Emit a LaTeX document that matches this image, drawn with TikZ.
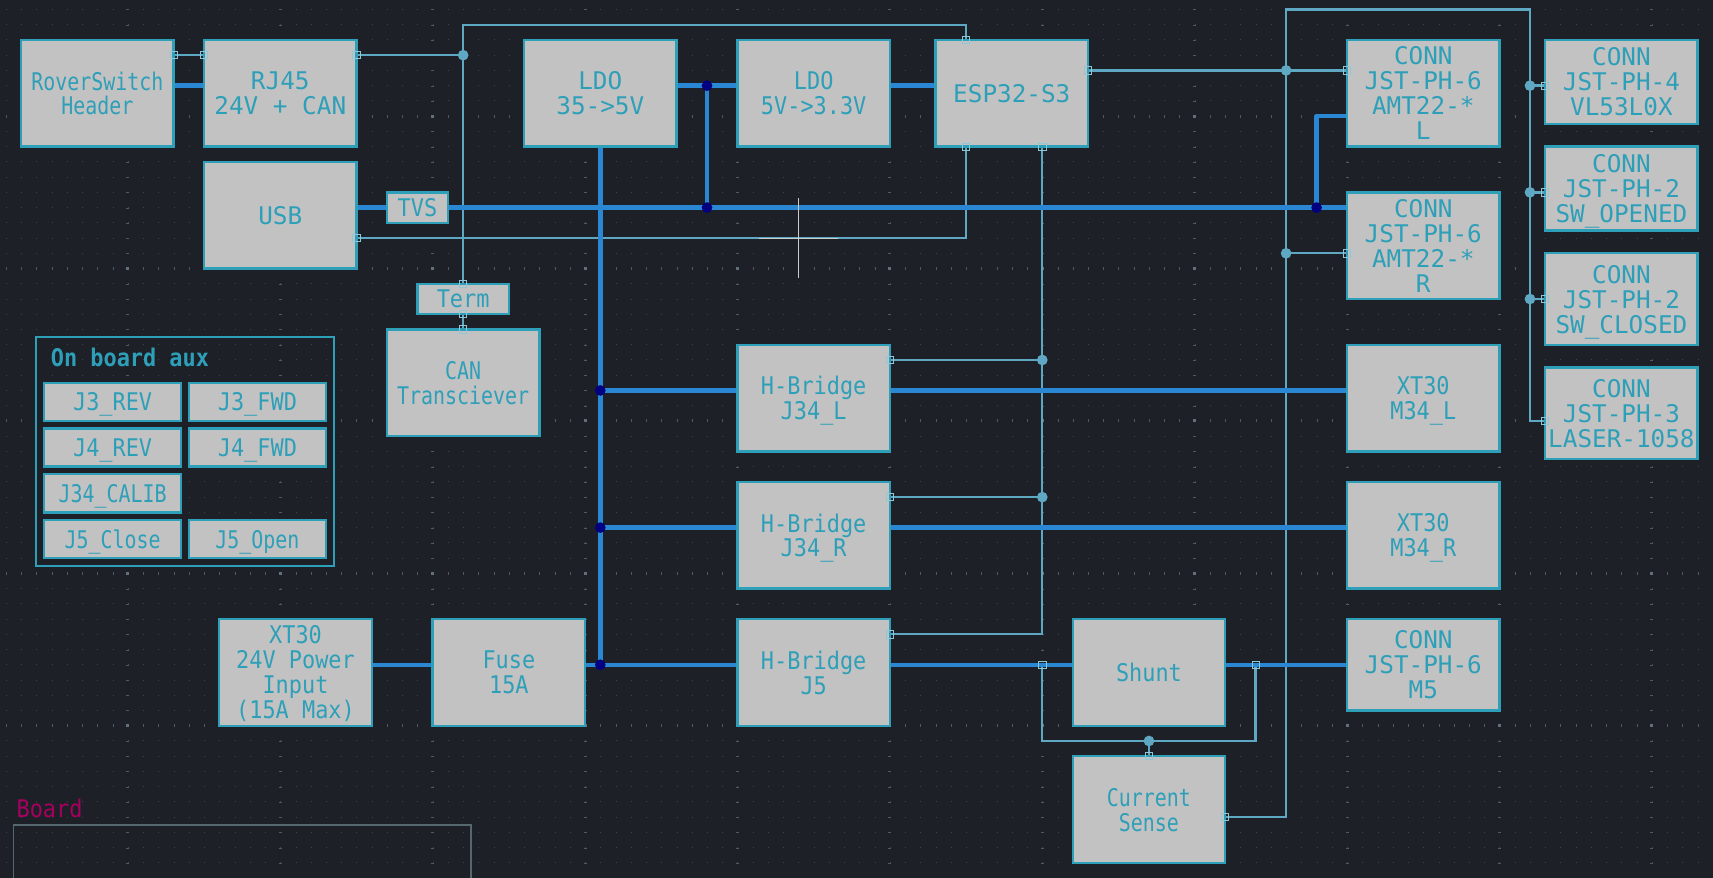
\documentclass[tikz,border=0pt]{standalone}
\usepackage{fontspec}
\usepackage{xcolor}
\usepackage{tikz}
\usetikzlibrary{backgrounds}
\newfontfamily\kimono[FakeStretch=0.9]{DejaVu Sans Mono}
\newfontfamily\kinarrow[FakeStretch=0.82]{DejaVu Sans Mono}
\newfontfamily\kiwide[FakeStretch=1.0]{DejaVu Sans Mono}
\newcommand{\kinorm}{\kimono\fontsize{22.7}{23.3}\selectfont}
\newcommand{\kislim}{\kinarrow\fontsize{22.7}{23.3}\selectfont}
\newcommand{\kibroad}{\kiwide\fontsize{22.7}{23.3}\selectfont}
\definecolor{sheetbg}{HTML}{1D2027}
\definecolor{boxfill}{HTML}{C2C2C2}
\definecolor{boxline}{HTML}{2E9FB8}
\definecolor{busblue}{HTML}{2A87D4}
\definecolor{sigblue}{HTML}{5EA8C4}
\definecolor{pinblue}{HTML}{8CC8D8}
\definecolor{jctnavy}{HTML}{000080}
\definecolor{griddim}{HTML}{3C454C}
\definecolor{gridmid}{HTML}{4D5C63}
\definecolor{gridtop}{HTML}{607278}
\definecolor{framegray}{HTML}{54686E}
\definecolor{boardred}{HTML}{A8005F}

\begin{document}
\begin{tikzpicture}[
    x=0.5cm, y=-0.5cm,
    block/.style={rectangle, draw=boxline, fill=boxfill, text=boxline, line width=2.2pt, inner sep=0pt, outer sep=0pt, align=center, minimum width=5cm, minimum height=3.5cm, font=\kinorm, text depth=0pt},
    tall/.style={block, minimum height=2.75cm, font=\kibroad},
    auxbtn/.style={block, minimum width=4.5cm, minimum height=1.25cm},
    pin/.style={rectangle, draw=pinblue, line width=0.8pt, inner sep=0pt, outer sep=0pt, minimum size=6.8pt},
    jct/.style={circle, fill=jctnavy, inner sep=0pt, outer sep=0pt, minimum size=10pt},
    tap/.style={circle, fill=sigblue, inner sep=0pt, outer sep=0pt, minimum size=10pt},
    bus/.style={draw=busblue, line width=4.2pt, line cap=round, line join=round},
    sig/.style={draw=sigblue, line width=2.2pt},
    griddot/.style={griddim, line width=0.93pt, dash pattern=on 0.93pt off 13.296pt},
    gridrow/.style={gridmid, line width=2.8pt, dash pattern=on 0.93pt off 13.296pt},
    gridcol/.style={gridmid, line width=2.8pt, dash pattern=on 0.93pt off 13.296pt},
    gridpt/.style={gridtop, line width=2.8pt, dash pattern=on 2.8pt off 139.46pt},
    cursorln/.style={draw=white!80!black, line width=0.9pt}
]
  \useasboundingbox (-0.39,-0.62) rectangle (112.01,56.99);
  \begin{scope}[on background layer]
    \fill[sheetbg] (-0.39,-0.62) rectangle (112.01,56.99);
    \foreach \r in {0,...,56} \draw[griddot] (0,\r) -- (112,\r);
    \foreach \r in {7,17,...,47} \draw[gridrow] (0,\r) -- (112,\r);
    \foreach \c in {8,18,...,108} \draw[gridcol] (\c,0) -- (\c,56.9);
    \foreach \r in {7,17,...,47} \draw[gridpt] (7.9,\r) -- (112,\r);
  \end{scope}

  \node[block, font=\kislim] (rover) at (6,5.5) {RoverSwitch\\Header};
  \node[block, font=\kibroad] (rj45) at (18,5.5) {RJ45\\24V + CAN};
  \node[block, font=\kibroad] (usb) at (18,13.5) {USB};
  \node[block, minimum width=2cm, minimum height=1cm] (tvs) at (27,13) {TVS};
  \node[block, font=\kibroad] (ldoA) at (39,5.5) {LDO\\35->5V};
  \node[block] (ldoB) at (53,5.5) {LDO\\5V->3.3V};
  \node[block, font=\kibroad] (esp) at (66,5.5) {ESP32-S3};
  \node[block, minimum width=3cm, minimum height=1cm] (term) at (30,19) {Term};
  \node[block, font=\kislim] (can) at (30,24.5) {CAN\\Transciever};

  \node[block, font=\kibroad] (connL) at (93,5.5) {CONN\\JST-PH-6\\AMT22-*\\L};
  \node[block, font=\kibroad] (connR) at (93,15.5) {CONN\\JST-PH-6\\AMT22-*\\R};
  \node[block] (motL) at (93,25.5) {XT30\\M34\_L};
  \node[block] (motR) at (93,34.5) {XT30\\M34\_R};
  \node[tall, minimum height=3cm] (motF) at (93,43) {CONN\\JST-PH-6\\M5};
  \node[tall] (tof) at (106,4.75) {CONN\\JST-PH-4\\VL53L0X};
  \node[tall] (swOpen) at (106,11.75) {CONN\\JST-PH-2\\SW\_OPENED};
  \node[tall, minimum height=3cm] (swClosed) at (106,19) {CONN\\JST-PH-2\\SW\_CLOSED};
  \node[tall, minimum height=3cm] (laser) at (106,26.5) {CONN\\JST-PH-3\\LASER-1058};

  \node[block] (hbL) at (53,25.5) {H-Bridge\\J34\_L};
  \node[block] (hbR) at (53,34.5) {H-Bridge\\J34\_R};
  \node[block] (hbF) at (53,43.5) {H-Bridge\\J5};
  \node[block] (power) at (19,43.5) {XT30\\24V Power\\Input\\(15A Max)};
  \node[block] (fuse) at (33,43.5) {Fuse\\15A};
  \node[block] (shunt) at (75,43.5) {Shunt};
  \node[block, font=\kislim] (sense) at (75,52.5) {Current\\Sense};

  \node[rectangle, draw=boxline, line width=2pt, outer sep=0pt, minimum width=9.75cm, minimum height=7.5cm] (auxframe) at (11.75,29) {};
  \node[anchor=base west, text=boxline, font=\kinorm\bfseries] (auxtitle) at (2.7,23.4) {On board aux};
  \node[auxbtn] (revA) at (7,25.75) {J3\_REV};
  \node[auxbtn] (fwdA) at (16.5,25.75) {J3\_FWD};
  \node[auxbtn] (revB) at (7,28.75) {J4\_REV};
  \node[auxbtn] (fwdB) at (16.5,28.75) {J4\_FWD};
  \node[auxbtn, font=\kislim] (calib) at (7,31.75) {J34\_CALIB};
  \node[auxbtn, font=\kislim] (close) at (7,34.75) {J5\_Close};
  \node[auxbtn, font=\kislim] (open) at (16.5,34.75) {J5\_Open};

  \node[anchor=base west, text=boardred, font=\kinorm] (boardname) at (0.45,53) {Board};

  \node[pin] (pRover) at (11,3) {};
  \node[pin] (pRjA) at (13,3) {};
  \node[pin] (pRjB) at (23,3) {};
  \node[pin] (pUsb) at (23,15) {};
  \node[pin] (pEspT) at (63,2) {};
  \node[pin] (pEspB) at (63,9) {};
  \node[pin] (pEspC) at (68,9) {};
  \node[pin] (pEspR) at (71,4) {};
  \node[pin] (pConnL) at (88,4) {};
  \node[pin] (pConnR) at (88,16) {};
  \node[pin] (pTermT) at (30,18) {};
  \node[pin] (pTermB) at (30,20) {};
  \node[pin] (pCan) at (30,21) {};
  \node[pin] (pTof) at (101,5) {};
  \node[pin] (pOpen) at (101,12) {};
  \node[pin] (pClosed) at (101,19) {};
  \node[pin] (pLaser) at (101,27) {};
  \node[pin] (pHbL) at (58,23) {};
  \node[pin] (pHbR) at (58,32) {};
  \node[pin] (pHbF) at (58,41) {};
  \node[pin] (pShuntA) at (68,43) {};
  \node[pin] (pShuntB) at (82,43) {};
  \node[pin] (pSenseT) at (75,49) {};
  \node[pin] (pSenseR) at (80,53) {};

  \node[jct] (jLdoA) at (46,5) {};
  \node[jct] (jLdoB) at (46,13) {};
  \node[jct] (jEnc) at (86,13) {};
  \node[jct] (jHbL) at (39,25) {};
  \node[jct] (jHbR) at (39,34) {};
  \node[jct] (jFuse) at (39,43) {};
  \node[tap] (tCan) at (30,3) {};
  \node[tap] (tI2cA) at (84,4) {};
  \node[tap] (tI2cB) at (84,16) {};
  \node[tap] (tTof) at (100,5) {};
  \node[tap] (tOpen) at (100,12) {};
  \node[tap] (tClosed) at (100,19) {};
  \node[tap] (tHbL) at (68,23) {};
  \node[tap] (tHbR) at (68,32) {};
  \node[tap] (tSense) at (75,48) {};
  \coordinate (busTop) at (84,0);
  \coordinate (canTop) at (30,1);
  \coordinate (senseLow) at (68,48);

  \begin{scope}[on background layer]
    \draw[sig] (pRover.center) -- (pRjA.center);
    \draw[sig] (pRjB.center) -- (tCan.center);
    \draw[sig] (pEspT.center) |- (canTop) -- (pTermT.center);
    \draw[sig] (pTermB.center) -- (pCan.center);
    \draw[sig] (pUsb.center) -| (pEspB.center);
    \draw[sig] (pEspR.center) -- (pConnL.center);
    \draw[sig] (pConnR.center) -- (tI2cB.center);
    \draw[sig] (pSenseR.center) -| (busTop) -| (tTof.center) -- (pLaser.center -| tTof.center) -- (pLaser.center);
    \draw[sig] (tTof.center) -- (pTof.center);
    \draw[sig] (tOpen.center) -- (pOpen.center);
    \draw[sig] (tClosed.center) -- (pClosed.center);
    \draw[sig] (pEspC.center) |- (pHbF.center);
    \draw[sig] (tHbL.center) -- (pHbL.center);
    \draw[sig] (tHbR.center) -- (pHbR.center);
    \draw[sig] (pShuntA.center) -- (senseLow) -| (pShuntB.center);
    \draw[sig] (tSense.center) -- (pSenseT.center);

    \draw[bus] ([yshift=0.25cm]rover.east) -- ([yshift=0.25cm]rj45.west);
    \draw[bus] (usb.east |- tvs) -- (tvs.west);
    \draw[bus] (tvs.east) -- (connR.west |- tvs);
    \draw[bus] (ldoA.east |- jLdoA) -- (ldoB.west |- jLdoA);
    \draw[bus] (ldoB.east |- jLdoA) -- (esp.west |- jLdoA);
    \draw[bus] (jLdoA.center) -- (jLdoB.center);
    \draw[bus] (jEnc.center) |- ([yshift=-0.75cm]connL.west);
    \draw[bus] (ldoA.south) -- (jFuse.center);
    \draw[bus] (jHbL.center) -- (hbL.west |- jHbL);
    \draw[bus] (jHbR.center) -- (hbR.west |- jHbR);
    \draw[bus] (hbL.east |- jHbL) -- (motL.west |- jHbL);
    \draw[bus] (hbR.east |- jHbR) -- (motR.west |- jHbR);
    \draw[bus] (power.east |- jFuse) -- (fuse.west |- jFuse);
    \draw[bus] (fuse.east |- jFuse) -- (hbF.west |- jFuse);
    \draw[bus] (hbF.east |- jFuse) -- (shunt.west |- jFuse);
    \draw[bus] (shunt.east |- jFuse) -- (motF.west |- jFuse);
  \end{scope}

  \draw[draw=framegray, line width=1.6pt] (0.5,56.99) |- (30.5,53.5) -- (30.5,56.99);

  \coordinate (cursor) at (52,15);
  \draw[cursorln] ([xshift=-1.3cm]cursor) -- ([xshift=1.3cm]cursor);
  \draw[cursorln] ([yshift=-1.3cm]cursor) -- ([yshift=1.3cm]cursor);
\end{tikzpicture}
\end{document}
